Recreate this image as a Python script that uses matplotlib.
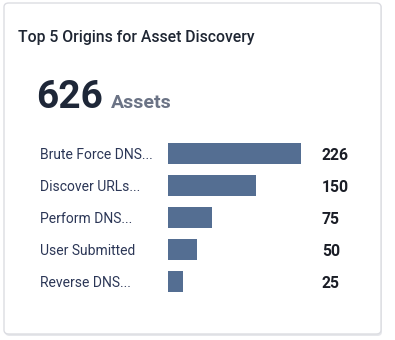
import matplotlib
matplotlib.use("Agg")
import matplotlib.pyplot as plt
from matplotlib.patches import FancyBboxPatch
import matplotlib.transforms as mtransforms

plt.rcParams['font.family'] = ['Roboto', 'DejaVu Sans']

title = "Top 5 Origins for Asset Discovery"
total = 626
total_label = "Assets"
categories = ["Brute Force DNS...", "Discover URLs...", "Perform DNS...", "User Submitted", "Reverse DNS..."]
values = [226, 150, 75, 50, 25]

W, H = 395, 340
fig = plt.figure(figsize=(W / 100, H / 100), dpi=100)
fig.patch.set_facecolor('white')

def fx(px):
    return px / W

def fy(py):
    return 1 - py / H

# card with shadow
shadow = FancyBboxPatch((fx(5), fy(336)), fx(377), (332) / H,
                        boxstyle="round,pad=0,rounding_size=0.012",
                        transform=fig.transFigure, facecolor='#e6e7eb', edgecolor='none', zorder=0)
fig.add_artist(shadow)
card = FancyBboxPatch((fx(4), fy(334)), fx(377), (331) / H,
                      boxstyle="round,pad=0,rounding_size=0.012",
                      transform=fig.transFigure, facecolor='white', edgecolor='#dcdde2',
                      linewidth=1.0, zorder=1)
fig.add_artist(card)

fig.text(fx(18), fy(42), title, fontsize=11.3, fontweight='medium', color='#1f2633',
         ha='left', va='baseline', zorder=3)
fig.text(fx(36), fy(108), str(total), fontsize=28, fontweight='bold', color='#1e2738',
         ha='left', va='baseline', zorder=3)
fig.text(fx(111), fy(108), total_label, fontsize=14, fontweight='bold', color='#6b7385',
         ha='left', va='baseline', zorder=3)

# bar axes: rows spanning 137.5..297.5 px, bars start at 168 px
ax_left, ax_right = 168, 380
ax_top, ax_bot = 137.5, 297.5
ax = fig.add_axes([fx(ax_left), fy(ax_bot), fx(ax_right - ax_left), (ax_bot - ax_top) / H])
ax.set_zorder(2)
ax.patch.set_alpha(0)
scale = 133 / max(values)  # px per unit
ax.set_xlim(0, (ax_right - ax_left) / scale)
ax.set_ylim(len(values) - 0.5, -0.5)
ypos = list(range(len(values)))
ax.barh(ypos, values, height=0.67, color='#546e92', edgecolor='none')
ax.axis('off')

trans = mtransforms.blended_transform_factory(fig.transFigure, ax.transData)
for i, (c, v) in enumerate(zip(categories, values)):
    ax.text(fx(40), i, c, transform=trans, fontsize=10, color='#2b3656',
            ha='left', va='center_baseline', clip_on=False)
    ax.text(fx(322), i, str(v), transform=trans, fontsize=11.3, fontweight='bold', color='#1a1d26',
            ha='left', va='center_baseline', clip_on=False)

fig.savefig('out.png', dpi=100, facecolor='white')
